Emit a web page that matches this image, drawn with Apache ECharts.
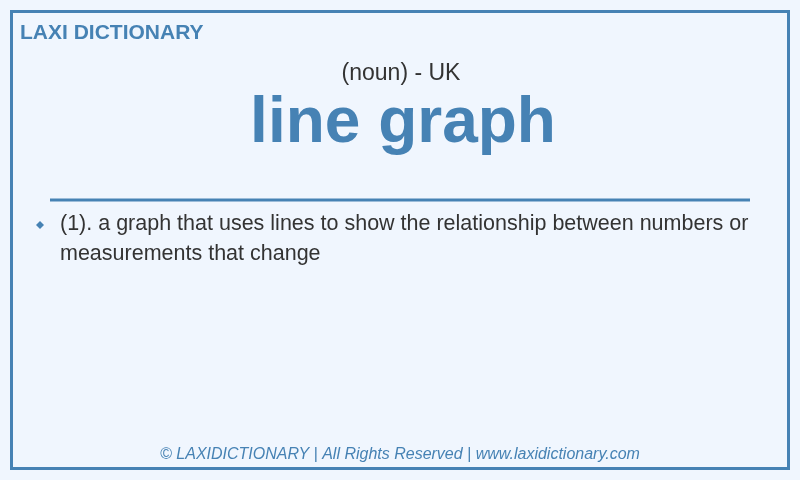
<!DOCTYPE html>
<html>
<head>
<meta charset="utf-8">
<script src="https://cdn.jsdelivr.net/npm/echarts@6/dist/echarts.min.js"></script>
<style>
  html, body { margin: 0; padding: 0; background: #f0f6fe; }
  #main { width: 800px; height: 480px; }
</style>
</head>
<body>
<div id="main"></div>
<script>
// card texts
const brand = "LAXI DICTIONARY";
const partOfSpeech = "(noun) - UK";
const headword = "line graph";
const definitions = [
  "(1). a graph that uses lines to show the relationship between numbers or",
  "measurements that change",
];
const footer = "© LAXIDICTIONARY | All Rights Reserved | www.laxidictionary.com";

const blue = "#4682b4";
const font = "Liberation Sans, Arial, sans-serif";

const chart = echarts.init(document.getElementById("main"));

const elements = [
  {
    type: "rect",
    shape: { x: 11.5, y: 11.5, width: 777, height: 457 },
    style: { fill: "#f0f6fe", stroke: blue, lineWidth: 3 },
  },
  {
    type: "text",
    style: {
      x: 20, y: 33, text: brand, fill: blue,
      font: "bold 21px " + font, textVerticalAlign: "middle",
    },
  },
  {
    type: "text",
    style: {
      x: 401, y: 74, text: partOfSpeech, fill: "#333",
      font: "23px " + font, textAlign: "center", textVerticalAlign: "middle",
    },
  },
  {
    type: "text",
    style: {
      x: 403, y: 124, text: headword, fill: blue,
      font: "bold 64px " + font, textAlign: "center", textVerticalAlign: "middle",
    },
  },
  {
    type: "line",
    shape: { x1: 50, y1: 200, x2: 750, y2: 200 },
    style: { stroke: blue, lineWidth: 3 },
  },
  {
    type: "polygon",
    shape: { points: [[40, 221], [44, 225], [40, 229], [36, 225]] },
    style: { fill: blue },
  },
  {
    type: "text",
    style: {
      x: 400, y: 455, text: footer, fill: blue,
      font: "italic 16px " + font, textAlign: "center", textVerticalAlign: "middle",
    },
  },
];

definitions.forEach((line, i) => {
  elements.push({
    type: "text",
    style: {
      x: 60, y: 224 + i * 30, text: line, fill: "#333",
      font: "21.5px " + font, textVerticalAlign: "middle",
    },
  });
});

chart.setOption({
  animation: false,
  backgroundColor: "#f0f6fe",
  graphic: { elements },
});
</script>
</body>
</html>
